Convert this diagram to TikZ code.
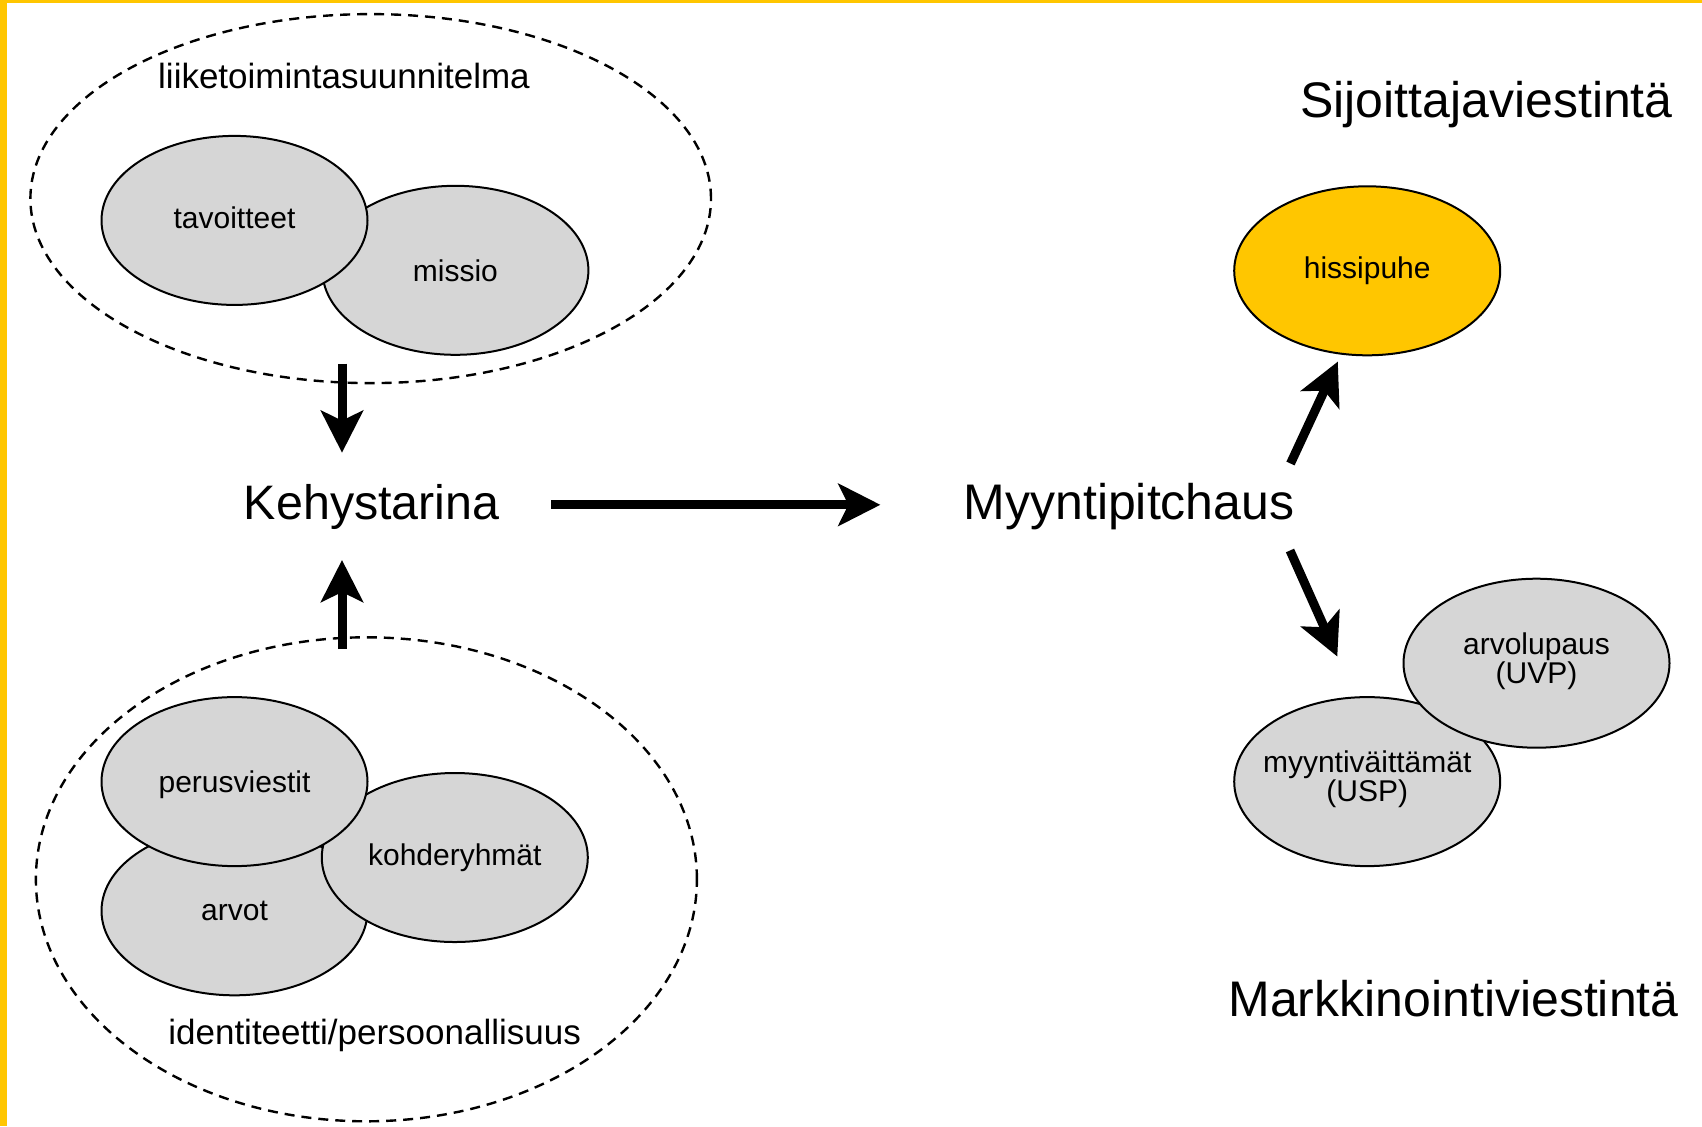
\documentclass[tikz,border=0pt]{standalone}
\usepackage{fontspec}
\setmainfont{Liberation Sans}
\usetikzlibrary{shapes.geometric,arrows.meta}
\definecolor{brandyellow}{RGB}{255,198,0}
\definecolor{blobgray}{RGB}{214,214,214}
\begin{document}
\begin{tikzpicture}[x=0.5pt,y=-0.5pt,
  blob/.style={ellipse, draw, line width=1pt, fill=blobgray, minimum width=133pt, minimum height=84.5pt, inner sep=0pt},
  blobtext/.style={align=center, inner sep=0pt, font=\fontsize{15pt}{14.5pt}\selectfont},
  hissi/.style={blob, fill=brandyellow},
  group/.style={ellipse, draw, dash pattern=on 5pt off 3.5pt, line width=1.2pt, inner sep=0pt},
  bigarrow/.style={line width=4.5pt, -{Stealth[length=21pt,width=21pt,inset=5pt]}},
  title/.style={font=\fontsize{25pt}{30pt}\selectfont, inner sep=0pt},
  grouplabel/.style={font=\fontsize{17.5pt}{21pt}\selectfont, inner sep=0pt}]
\path[use as bounding box, fill=white] (0,0) rectangle (1702,1126);
\fill[brandyellow] (0,0) rectangle (7,1126);
\fill[brandyellow] (0,0) rectangle (1702,3);

% group ellipses
\node[group, minimum width=340.3pt, minimum height=184.5pt] (plan) at (370.7,198.6) {};
\node[group, minimum width=330.5pt, minimum height=242pt] (ident) at (366.4,879.3) {};

% blobs
\node[blob, label={[blobtext]center:missio}] (missio) at (455.4,270.3) {};
\node[blob, label={[blobtext, yshift=1.5pt]center:tavoitteet}] (tavo) at (234.5,220.4) {};
\node[blob, label={[blobtext]center:arvot}] (arvot) at (234.5,910.8) {};
\node[blob, label={[blobtext]center:kohderyhmät}] (kohde) at (454.8,857.5) {};
\node[blob, label={[blobtext, yshift=-1.5pt]center:perusviestit}] (perus) at (234.5,781.6) {};
\node[hissi, label={[blobtext]center:hissipuhe}] (hissi) at (1367.2,270.8) {};
\node[blob, label={[blobtext, yshift=1pt]center:{myyntiväittämät\\(USP)}}] (usp) at (1367.2,781.6) {};
\node[blob, label={[blobtext, yshift=1pt]center:{arvolupaus\\(UVP)}}] (uvp) at (1536.5,663.2) {};

% labels
\node[grouplabel] (planlabel) at (344,76) {liiketoimintasuunnitelma};
\node[grouplabel] (identlabel) at (374.6,1035) {identiteetti/persoonallisuus};
\node[title, font=\fontsize{24.2pt}{30pt}\selectfont] (kehys) at (371.7,506.5) {Kehystarina};
\node[title] (myynti) at (1129,506.5) {Myyntipitchaus};
\node[title] (sijo) at (1486.5,105) {Sijoittajaviestintä};
\node[title] (markk) at (1453.5,999) {Markkinointiviestintä};

% arrow end points
\coordinate (a1s) at (342,363.6);
\coordinate (a1e) at (342,452.7);
\coordinate (a2s) at (342,649);
\coordinate (a2e) at (342,560);
\coordinate (a3s) at (551.4,504.8);
\coordinate (a3e) at (880.4,504.8);
\coordinate (a4s) at (1290.5,463.5);
\coordinate (a4e) at (1337.8,361.6);
\coordinate (a5s) at (1290,550.5);
\coordinate (a5e) at (1337.3,656.5);

\draw[bigarrow] (a1s) -- (a1e);
\draw[bigarrow] (a2s) -- (a2e);
\draw[bigarrow] (a3s) -- (a3e);
\draw[bigarrow] (a4s) -- (a4e);
\draw[bigarrow] (a5s) -- (a5e);
\end{tikzpicture}
\end{document}
